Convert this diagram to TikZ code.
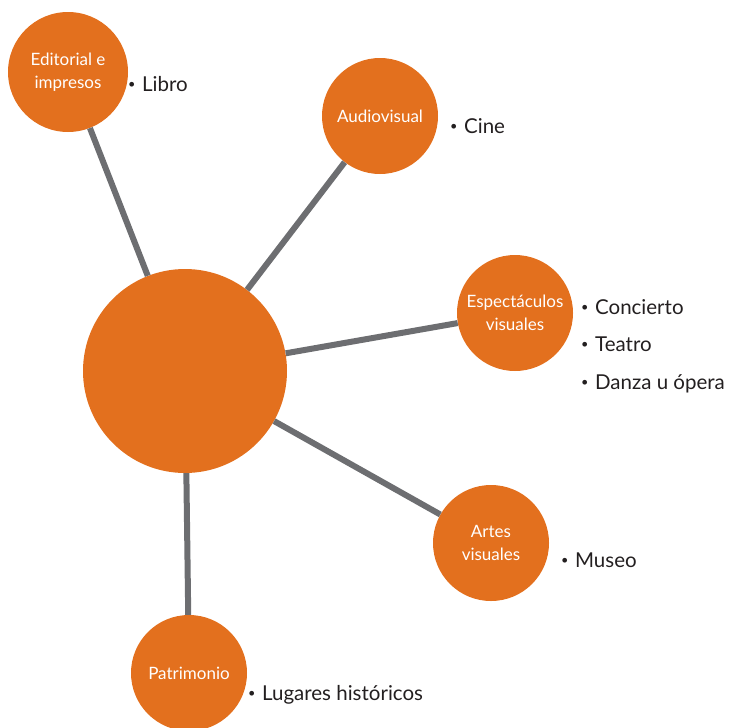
\documentclass[tikz,border=0pt]{standalone}
\usepackage{fontspec}
\setmainfont{Lato}
\definecolor{hub}{HTML}{E3701E}
\definecolor{spoke}{HTML}{6D6E71}
\definecolor{ink}{HTML}{231F20}
% small bullet in front of each example
\newcommand\itemdot{\raisebox{0.22ex}{\scalebox{0.62}{•}}\hspace{0.32em}}
\begin{document}
\begin{tikzpicture}[x=1pt,y=-1pt,
  bubble/.style={circle,fill=hub,draw=none,inner sep=0pt,text=white,
    font=\fontsize{17}{22.5}\selectfont,align=center},
  spokeline/.style={draw=spoke,line width=6pt},
  item/.style={anchor=base west,text=ink,inner sep=0pt,
    font=\fontsize{20.5}{24}\selectfont}]
\useasboundingbox (0,0) rectangle (728,728);

% hub and category circles
\node[bubble,minimum size=204pt] (c) at (185,371) {};
\node[bubble,minimum size=120pt] (ed) at (68,72) {Editorial e\\impresos};
\node[bubble,minimum size=116pt] (av) at (380,116) {Audiovisual};
\node[bubble,minimum size=116pt] (es) at (515,313) {Espectáculos\\visuales};
\node[bubble,minimum size=116pt] (ar) at (491,543) {Artes\\visuales};
\node[bubble,minimum size=116pt] (pa) at (189,673) {Patrimonio};

% spokes from the hub
\draw[spokeline] (c) -- (ed);
\draw[spokeline] (c) -- (av);
\draw[spokeline] (c) -- (es);
\draw[spokeline] (c) -- (ar);
\draw[spokeline] (c) -- (pa);

% examples for each category
\node[item] (l1) at (128,91) {\itemdot Libro};
\node[item] (l2) at (450,133) {\itemdot Cine};
\node[item] (l3) at (581,314) {\itemdot Concierto};
\node[item] (l4) at (581,351) {\itemdot Teatro};
\node[item] (l5) at (581,389) {\itemdot Danza u ópera};
\node[item] (l6) at (561,567) {\itemdot Museo};
\node[item] (l7) at (248,700) {\itemdot Lugares históricos};
\end{tikzpicture}
\end{document}
